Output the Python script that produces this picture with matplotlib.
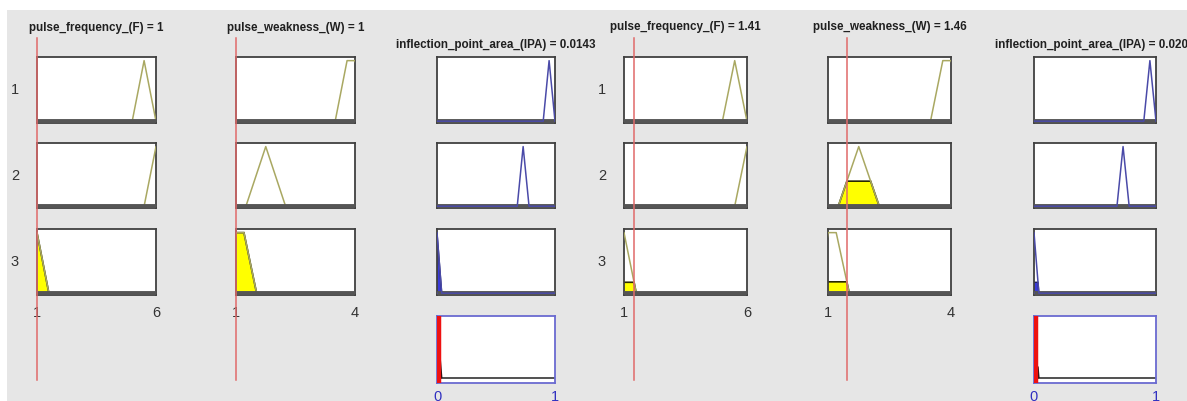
import matplotlib.pyplot as plt
from matplotlib.lines import Line2D
from matplotlib.patches import Rectangle
from matplotlib.transforms import blended_transform_factory
import numpy as np

plt.rcParams['font.family'] = ['Liberation Sans', 'DejaVu Sans']

# membership functions (trimf = 3 params, trapmf = 4 params)
f_range = [1, 6]
w_range = [1, 4]
ipa_range = [0, 1]
f_mfs = [[5.0, 5.5, 6.0], [5.5, 6.0, 6.5], [0.5, 1.0, 1.5]]
w_mfs = [[3.5, 3.8, 4.0, 4.5], [1.25, 1.75, 2.25], [0.8, 1.0, 1.2, 1.52]]
ipa_mfs = [[0.9, 0.95, 1.0], [0.68, 0.73, 0.78], [-0.04, 0.0, 0.04]]

# the two evaluated cases
f_inputs = [1, 1.41]
w_inputs = [1, 1.46]
ipa_outputs = [0.0143, 0.0202]
f_titles = ['pulse_frequency_(F) = 1', 'pulse_frequency_(F) = 1.41']
w_titles = ['pulse_weakness_(W) = 1', 'pulse_weakness_(W) = 1.46']
ipa_titles = ['inflection_point_area_(IPA) = 0.0143', 'inflection_point_area_(IPA) = 0.0202']
row_labels = ['1', '2', '3']

W_PX, H_PX = 1187, 401
BG = '#e6e6e6'
MF_IN = '#a9a862'
MF_OUT = '#4a4aa8'
TXT = '#333333'
TITLE_SIZE = 8.4


def rect(x0, x1, y0, y1):
    return [x0 / W_PX, 1 - y1 / H_PX, (x1 - x0) / W_PX, (y1 - y0) / H_PX]


def verts(p):
    if len(p) == 3:
        return list(p), [0, 1, 0]
    return list(p), [0, 1, 1, 0]


def mu(p, x):
    xs, ys = verts(p)
    return float(np.interp(x, xs, ys, left=0, right=0))


def clipped(p, h):
    xs, ys = verts(p)
    px, py = [], []
    for i in range(len(xs) - 1):
        px.append(xs[i]); py.append(min(ys[i], h))
        if (ys[i] - h) * (ys[i + 1] - h) < 0:
            t = (h - ys[i]) / (ys[i + 1] - ys[i])
            px.append(xs[i] + t * (xs[i + 1] - xs[i])); py.append(h)
    px.append(xs[-1]); py.append(min(ys[-1], h))
    return px, py


fig = plt.figure(figsize=(W_PX / 100, H_PX / 100), dpi=100, facecolor='white')
fig.add_artist(Rectangle((7 / W_PX, 0), 1, 1 - 10 / H_PX, transform=fig.transFigure,
                         facecolor=BG, edgecolor='none', zorder=-10))

rows = [(57, 123), (143, 208), (229, 295)]
out_row = (316, 383)

groups = [
    dict(f=(37, 156), w=(236, 355), ipa=(437, 555), lab=15, ty=28),
    dict(f=(624, 747), w=(828, 951), ipa=(1034, 1156), lab=602, ty=27),
]


def box(ax, xr, edge='#404040'):
    ax.set_xlim(xr)
    ax.set_ylim(-0.03, 1.06)
    ax.set_xticks([]); ax.set_yticks([])
    for s in ax.spines.values():
        s.set_color(edge); s.set_linewidth(1.3)


for g, (fi, wi, yo) in enumerate(zip(f_inputs, w_inputs, ipa_outputs)):
    G = groups[g]
    firing = []
    last_axes = {}
    for r, (y0, y1) in enumerate(rows):
        dF = mu(f_mfs[r], fi)
        dW = mu(w_mfs[r], wi)
        firing.append(min(dF, dW))
        for key, p, rng, d in [('f', f_mfs[r], f_range, dF), ('w', w_mfs[r], w_range, dW)]:
            x0, x1 = G[key]
            ax = fig.add_axes(rect(x0, x1, y0, y1))
            box(ax, rng)
            if d > 0:
                cx, cy = clipped(p, d)
                ax.fill(cx, cy, facecolor='#ffff00', edgecolor='#2a2a00', linewidth=1.2, zorder=2)
            xs, ys = verts(p)
            ax.plot(xs, ys, color=MF_IN, linewidth=1.1, zorder=3)
            ax.axhline(0, color='#555555', linewidth=2.8, zorder=4)
            last_axes[key] = ax
        # output MF of the rule
        x0, x1 = G['ipa']
        ax = fig.add_axes(rect(x0, x1, y0, y1))
        box(ax, ipa_range)
        h = firing[-1]
        if h > 0:
            cx, cy = clipped(ipa_mfs[r], h)
            ax.fill(cx, cy, facecolor='#3a3ad8', edgecolor='#202060', linewidth=1.0, zorder=2)
        xs, ys = verts(ipa_mfs[r])
        ax.axhline(0, color='#555555', linewidth=2.8, zorder=3)
        ax.plot([ipa_range[0]] + xs + [ipa_range[1]], [0] + ys + [0], color=MF_OUT,
                linewidth=1.1, zorder=4)
        if r == 0:
            ax.text(0.5, 1.0 + 12 / 66, ipa_titles[g], transform=ax.transAxes, ha='center',
                    va='center', fontsize=TITLE_SIZE, fontweight='bold', color='#202020')
        # row label
        fig.text(G['lab'] / W_PX, 1 - (y0 + y1) / 2 / H_PX, row_labels[r], ha='center',
                 va='center', fontsize=10.5, color=TXT)

    # aggregated output
    x0, x1 = G['ipa']
    ax = fig.add_axes(rect(x0, x1, *out_row))
    ax.set_xlim(ipa_range)
    ax.set_ylim(-0.09, 1.05)
    ax.set_xticks([]); ax.set_yticks([])
    for s in ax.spines.values():
        s.set_color('#6a6ad0'); s.set_linewidth(1.3)
    ax.axhline(0, color='#333333', linewidth=1.2, zorder=2)
    for r in range(3):
        if firing[r] > 0:
            cx, cy = clipped(ipa_mfs[r], firing[r])
            ax.fill(cx, cy, facecolor='#22224a', edgecolor='#101010', linewidth=1.0, zorder=3)
    ax.axvline(yo, color='#ee1111', linewidth=3.2, zorder=4)
    ax.text(0, -0.1, '0', transform=ax.transAxes, ha='center', va='top', fontsize=10.5, color='#3030c0')
    ax.text(1, -0.1, '1', transform=ax.transAxes, ha='center', va='top', fontsize=10.5, color='#3030c0')

    # titles, tick labels, input lines
    for key, val, rng, title in [('f', fi, f_range, f_titles[g]), ('w', wi, w_range, w_titles[g])]:
        x0, x1 = G[key]
        fig.text((x0 + x1) / 2 / W_PX, 1 - G['ty'] / H_PX, title, ha='center', va='center',
                 fontsize=TITLE_SIZE, fontweight='bold', color='#202020')
        fig.text(x0 / W_PX, 1 - 313 / H_PX, str(rng[0]), ha='center', va='center', fontsize=10.5, color=TXT)
        fig.text(x1 / W_PX, 1 - 313 / H_PX, str(rng[1]), ha='center', va='center', fontsize=10.5, color=TXT)
        tr = blended_transform_factory(last_axes[key].transData, fig.transFigure)
        fig.add_artist(Line2D([val, val], [1 - 380 / H_PX, 1 - 38 / H_PX], transform=tr,
                              color='#e06a6a', linewidth=1.1, zorder=5))

fig.savefig('out.png', dpi=100, facecolor=fig.get_facecolor())
